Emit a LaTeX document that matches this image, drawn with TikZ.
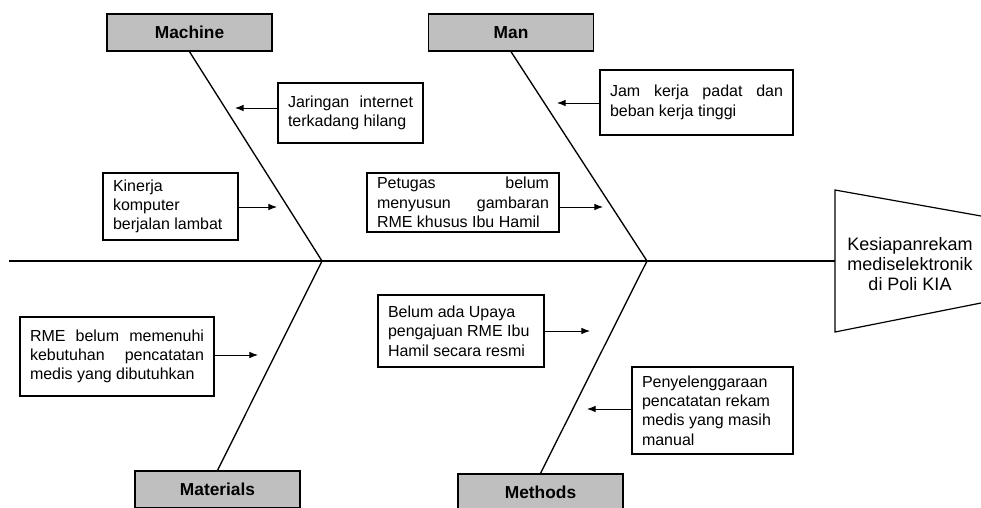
\documentclass[tikz,border=0pt]{standalone}
\usepackage{fontspec}
\setmainfont{Liberation Sans}
\usetikzlibrary{arrows.meta}
\definecolor{catgray}{RGB}{191,191,191}

\begin{document}
\begin{tikzpicture}[x=0.75pt,y=-0.75pt,
  cat/.style={draw,line width=1pt,fill=catgray,minimum width=123.75pt,minimum height=27.75pt,inner sep=0pt,font=\fontsize{13}{15}\selectfont\bfseries},
  cause/.style={draw,line width=0.9pt,align=justify,inner xsep=7.5pt,inner ysep=0pt,font=\fontsize{12}{14.5}\selectfont},
  bone/.style={line width=1pt},
  into/.style={-{Latex[length=6.5pt,width=5pt]},line width=0.7pt}]
  \useasboundingbox (0,0) rectangle (981,507);
  \clip (0,0) rectangle (981,507);
  % spine and head
  \coordinate (tail) at (9,261);
  \coordinate (headin) at (835,261);
  \coordinate (j1) at (322,261);
  \coordinate (j2) at (647,261);
  \draw[bone] (tail) -- (headin);
  \draw[line width=0.9pt] (981,216) -- (835,190) -- (835,332) -- (981,303);
  \node[font=\fontsize{13.5}{15}\selectfont,align=center] (effect) at (910,264)
    {Kesiapanrekam\\mediselektronik\\di Poli KIA};
  % categories
  \node[cat] (machine) at (189.5,32.5) {Machine};
  \node[cat] (man) at (511,32.5) {Man};
  \node[cat] (materials) at (217.5,489.5) {Materials};
  \node[cat] (methods) at (540.5,492.5) {Methods};
  \draw[bone] (machine.south) -- (j1) -- (materials.north);
  \draw[bone] (man.south) -- (j2) -- (methods.north);
  % causes
  \node[cause,text width=93.75pt,minimum height=45pt] (jaringan) at (350.5,113)
    {Jaringan internet\linebreak terkadang hilang};
  \node[cause,text width=86.25pt,minimum height=50.25pt] (kinerja) at (170.5,206.5)
    {Kinerja\\komputer\\berjalan lambat};
  \node[cause,text width=129pt,minimum height=44.25pt] (petugas) at (463,202.5)
    {Petugas belum\linebreak menyusun gambaran\linebreak RME khusus Ibu Hamil};
  \node[cause,text width=129.75pt,minimum height=48.75pt] (jamkerja) at (696.5,102.5)
    {Jam kerja padat dan\linebreak beban kerja tinggi};
  \node[cause,text width=130.5pt,minimum height=59.25pt] (rme) at (117,356.5)
    {RME belum memenuhi\linebreak kebutuhan pencatatan\linebreak medis yang dibutuhkan};
  \node[cause,text width=109.5pt,minimum height=54pt] (upaya) at (461,331)
    {Belum ada Upaya\\pengajuan RME Ibu\\Hamil secara resmi};
  \node[cause,text width=105.75pt,minimum height=65.25pt] (manual) at (712.5,410.5)
    {Penyelenggaraan\\pencatatan rekam\\medis yang masih\\manual};
  % arrows onto the bones
  \coordinate (a1) at (235,108);
  \coordinate (a2) at (277,207);
  \coordinate (a3) at (603,207);
  \coordinate (a4) at (557,103);
  \coordinate (a5) at (258,355);
  \coordinate (a6) at (590,331);
  \coordinate (a7) at (587,409);
  \draw[into] (a1 -| jaringan.west) -- (a1);
  \draw[into] (a2 -| kinerja.east) -- (a2);
  \draw[into] (a3 -| petugas.east) -- (a3);
  \draw[into] (a4 -| jamkerja.west) -- (a4);
  \draw[into] (a5 -| rme.east) -- (a5);
  \draw[into] (a6 -| upaya.east) -- (a6);
  \draw[into] (a7 -| manual.west) -- (a7);
\end{tikzpicture}
\end{document}
